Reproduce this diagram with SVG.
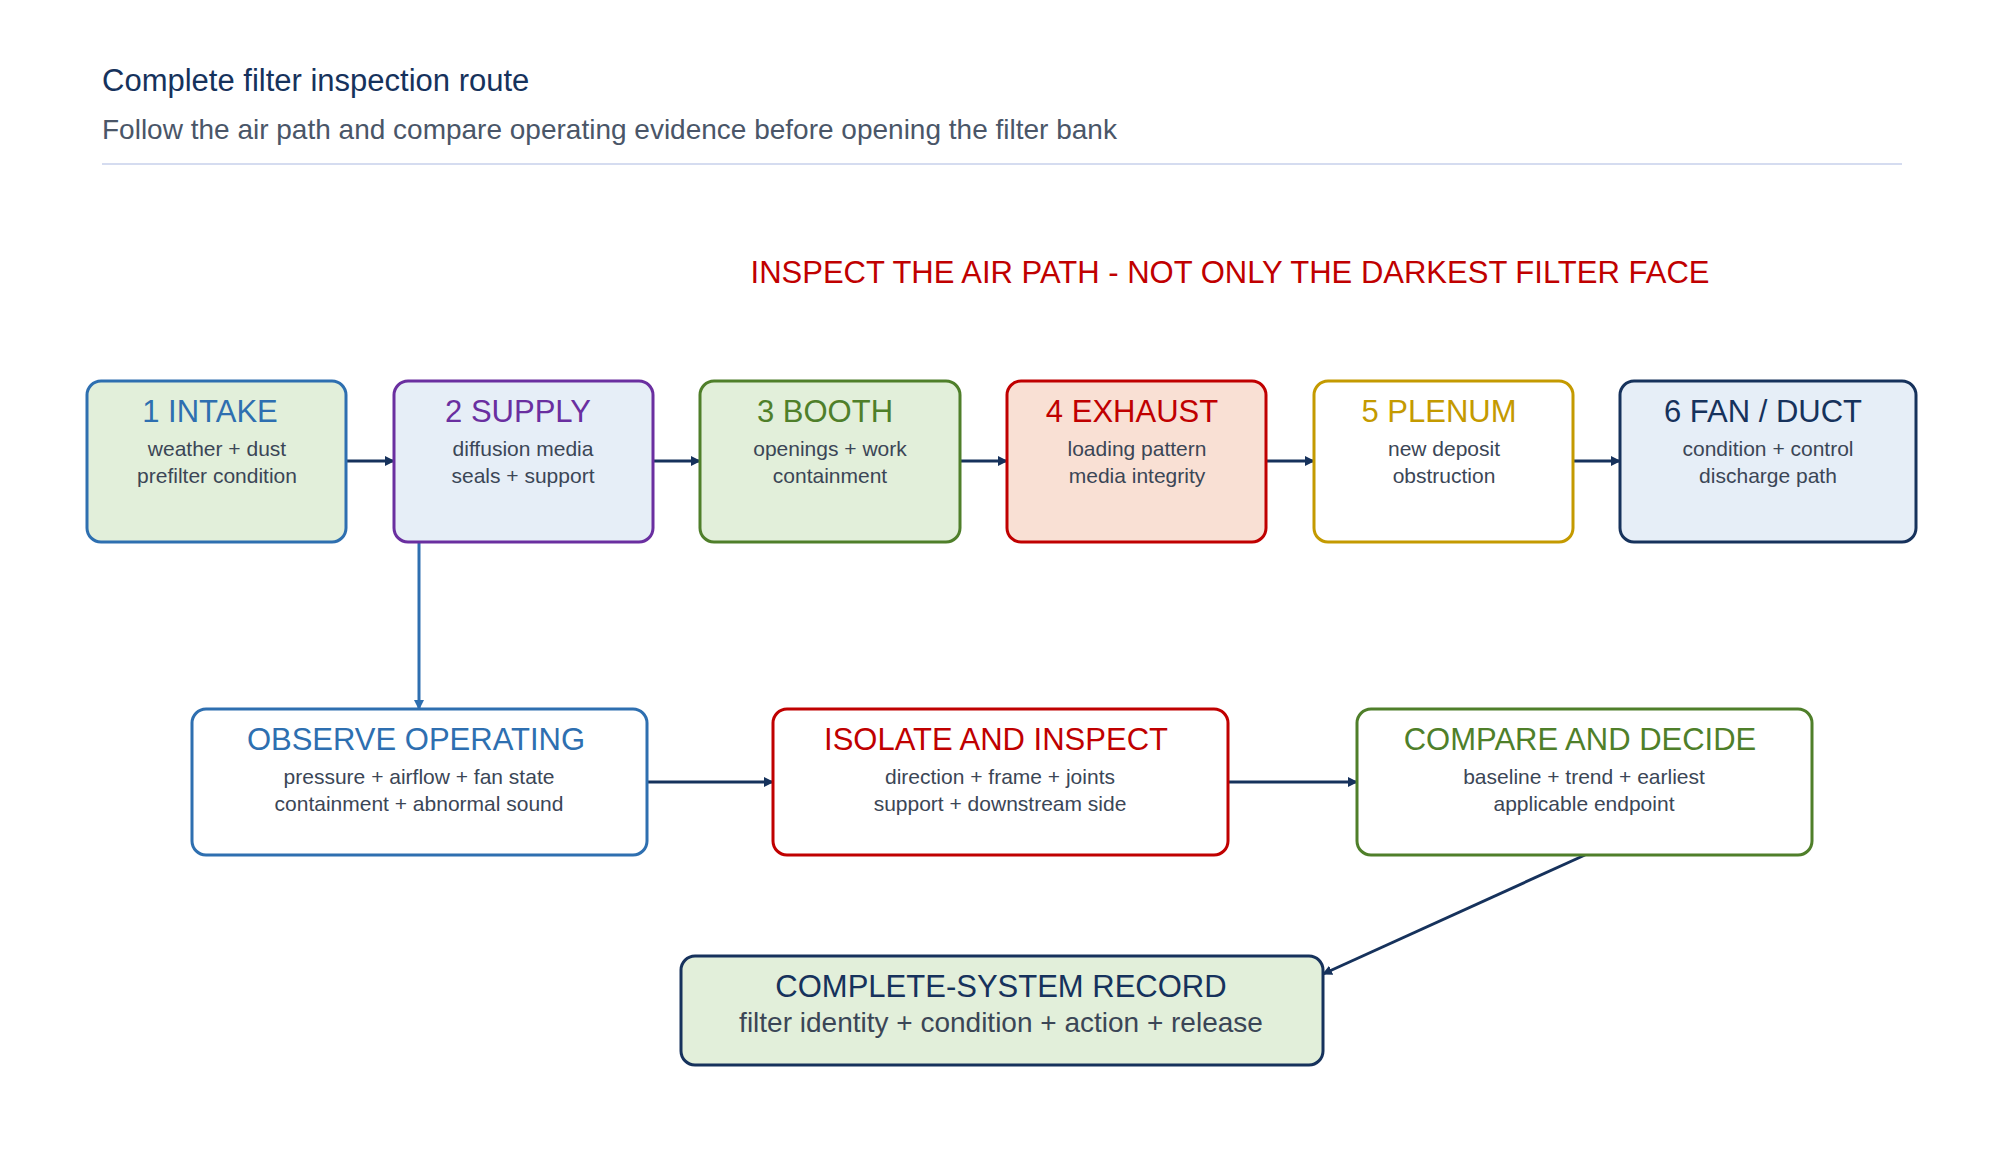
<svg xmlns="http://www.w3.org/2000/svg" width="1994" height="1161" viewBox="0 0 1994 1161">
<style>
text{font-family:"Liberation Sans",Arial,sans-serif;text-anchor:middle}
.h{font-size:31px}
.s{font-size:21px;fill:#3b4656}
.b{stroke-width:3;rx:14}
.c{stroke:#16325c;stroke-width:3;fill:none;marker-end:url(#a)}
</style>
<defs><marker id="a" markerWidth="10" markerHeight="10" refX="9" refY="5" orient="auto" markerUnits="userSpaceOnUse"><path d="M0,0L10,5L0,10z" fill="#16325c"/></marker>
<marker id="ab" markerWidth="10" markerHeight="10" refX="9" refY="5" orient="auto" markerUnits="userSpaceOnUse"><path d="M0,0L10,5L0,10z" fill="#2e6fb0"/></marker></defs>
<rect width="1994" height="1161" fill="#fff"/>
<text x="102" y="91" style="text-anchor:start;font-size:31px;fill:#16325c">Complete filter inspection route</text>
<text x="102" y="139" style="text-anchor:start;font-size:28px;fill:#4a5668">Follow the air path and compare operating evidence before opening the filter bank</text>
<line x1="102" y1="164" x2="1902" y2="164" stroke="#d5dcf0" stroke-width="2"/>
<text x="1230" y="283" style="font-size:31px;fill:#c00000">INSPECT THE AIR PATH - NOT ONLY THE DARKEST FILTER FACE</text>
<g id="connectors">
<line class="c" x1="346" y1="461" x2="394" y2="461"/>
<line class="c" x1="653" y1="461" x2="700" y2="461"/>
<line class="c" x1="960" y1="461" x2="1007" y2="461"/>
<line class="c" x1="1266" y1="461" x2="1314" y2="461"/>
<line class="c" x1="1573" y1="461" x2="1620" y2="461"/>
<line x1="419" y1="542" x2="419" y2="709" stroke="#2e6fb0" stroke-width="3" marker-end="url(#ab)"/>
<line class="c" x1="647" y1="782" x2="773" y2="782"/>
<line class="c" x1="1228" y1="782" x2="1357" y2="782"/>
<line class="c" x1="1585" y1="855" x2="1323" y2="974"/>
</g>
<g id="n1"><rect class="b" x="87" y="381" width="259" height="161" fill="#e2efda" stroke="#2e6fb0"/><text class="h" x="210" y="422" fill="#2e6fb0">1 INTAKE</text><text class="s" x="217" y="456">weather + dust</text><text class="s" x="217" y="483">prefilter condition</text></g>
<g id="n2"><rect class="b" x="394" y="381" width="259" height="161" fill="#e6eef7" stroke="#6a2fa0"/><text class="h" x="518" y="422" fill="#6a2fa0">2 SUPPLY</text><text class="s" x="523" y="456">diffusion media</text><text class="s" x="523" y="483">seals + support</text></g>
<g id="n3"><rect class="b" x="700" y="381" width="260" height="161" fill="#e2efda" stroke="#4f7f2a"/><text class="h" x="825" y="422" fill="#4f7f2a">3 BOOTH</text><text class="s" x="830" y="456">openings + work</text><text class="s" x="830" y="483">containment</text></g>
<g id="n4"><rect class="b" x="1007" y="381" width="259" height="161" fill="#f9e0d4" stroke="#c00000"/><text class="h" x="1132" y="422" fill="#c00000">4 EXHAUST</text><text class="s" x="1137" y="456">loading pattern</text><text class="s" x="1137" y="483">media integrity</text></g>
<g id="n5"><rect class="b" x="1314" y="381" width="259" height="161" fill="#fff" stroke="#c49a00"/><text class="h" x="1439" y="422" fill="#c49a00">5 PLENUM</text><text class="s" x="1444" y="456">new deposit</text><text class="s" x="1444" y="483">obstruction</text></g>
<g id="n6"><rect class="b" x="1620" y="381" width="296" height="161" fill="#e6eef7" stroke="#16325c"/><text class="h" x="1763" y="422" fill="#16325c">6 FAN / DUCT</text><text class="s" x="1768" y="456">condition + control</text><text class="s" x="1768" y="483">discharge path</text></g>
<g id="n7"><rect class="b" x="192" y="709" width="455" height="146" fill="#fff" stroke="#2e6fb0"/><text class="h" x="416" y="750" fill="#2e6fb0">OBSERVE OPERATING</text><text class="s" x="419" y="784">pressure + airflow + fan state</text><text class="s" x="419" y="811">containment + abnormal sound</text></g>
<g id="n8"><rect class="b" x="773" y="709" width="455" height="146" fill="#fff" stroke="#c00000"/><text class="h" x="996" y="750" fill="#c00000">ISOLATE AND INSPECT</text><text class="s" x="1000" y="784">direction + frame + joints</text><text class="s" x="1000" y="811">support + downstream side</text></g>
<g id="n9"><rect class="b" x="1357" y="709" width="455" height="146" fill="#fff" stroke="#4f7f2a"/><text class="h" x="1580" y="750" fill="#4f7f2a">COMPARE AND DECIDE</text><text class="s" x="1584" y="784">baseline + trend + earliest</text><text class="s" x="1584" y="811">applicable endpoint</text></g>
<g id="n10"><rect class="b" x="681" y="956" width="642" height="109" fill="#e2efda" stroke="#16325c"/><text x="1001" y="997" style="font-size:31px;fill:#16325c">COMPLETE-SYSTEM RECORD</text><text x="1001" y="1032" style="font-size:28px;fill:#3b4656">filter identity + condition + action + release</text></g>
</svg>
